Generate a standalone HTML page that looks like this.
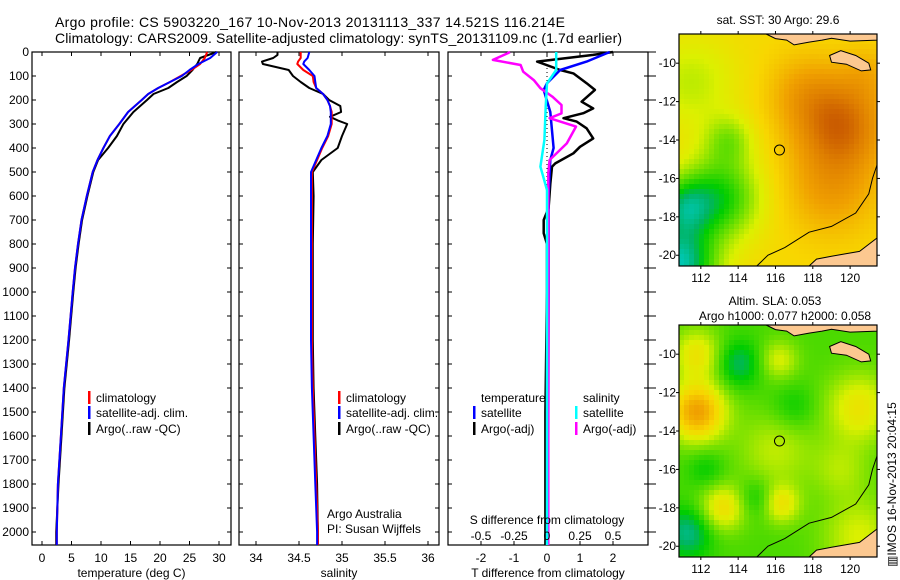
<!DOCTYPE html>
<html><head><meta charset="utf-8"><style>
body{margin:0;background:#fff;}
svg{display:block;font-family:"Liberation Sans",sans-serif;}
text{fill:#000;}
</style></head><body>
<svg id="s" width="900" height="580" viewBox="0 0 900 580" xmlns="http://www.w3.org/2000/svg">
<rect width="900" height="580" fill="#fff"/>
<text x="55" y="27" font-size="14" textLength="510">Argo profile: CS 5903220_167 10-Nov-2013 20131113_337 14.521S 116.214E</text>
<text x="55" y="43" font-size="14" textLength="567">Climatology: CARS2009. Satellite-adjusted climatology: synTS_20131109.nc (1.7d earlier)</text>
<g id="g"></g>
</svg>
<script>
// ---- data ----
const tDepth=[0,25,50,75,100,125,150,175,200,250,300,350,400,450,500,600,700,800,900,1000,1200,1400,1600,1800,2000,2054];
const tClim=[28.0,27.6,26.8,25.3,23.5,21.7,19.7,18.0,16.9,14.6,13.1,11.5,10.4,9.4,8.6,7.6,6.7,6.1,5.6,5.2,4.5,3.7,3.2,2.7,2.5,2.5];
const tSat=[29.7,28.5,26.5,25.0,23.7,21.7,19.7,18.0,16.9,14.6,13.1,11.5,10.4,9.4,8.6,7.6,6.7,6.1,5.6,5.2,4.5,3.7,3.2,2.7,2.5,2.5];
const tArgo=[29.6,26.8,26.3,25.5,24.5,22.9,21.4,18.9,17.8,15.5,13.8,12.7,11.2,9.5,8.7,7.7,6.8,6.2,5.7,5.3,4.6,3.8,3.3,2.8,2.4,2.4];
const sDepth=[0,12,25,40,50,75,100,125,150,175,200,225,250,270,285,300,350,400,450,500,600,800,1000,1200,1400,1600,1800,2000,2054];
const sClim=[34.52,34.52,34.52,34.49,34.48,34.55,34.66,34.67,34.70,34.78,34.83,34.86,34.88,34.88,34.88,34.88,34.84,34.77,34.71,34.65,34.65,34.65,34.65,34.65,34.66,34.68,34.70,34.72,34.72];
const sSat=[34.62,34.61,34.60,34.56,34.55,34.62,34.68,34.69,34.70,34.78,34.83,34.86,34.87,34.87,34.87,34.87,34.83,34.76,34.70,34.64,34.64,34.64,34.64,34.64,34.65,34.67,34.69,34.71,34.71];
const sArgo=[34.25,34.25,34.20,34.07,34.08,34.38,34.43,34.52,34.62,34.78,34.85,34.98,34.99,34.86,34.95,35.06,35.0,34.95,34.76,34.66,34.67,34.66,34.66,34.66,34.67,34.69,34.71,34.72,34.72];
const dtArgoDepth=[0,12,40,75,89,130,158,207,235,255,276,290,318,360,395,422,464,478,550,650,700,755,800,1000,1500,2000,2054];
const dtArgo=[2.0,1.4,-0.3,0.4,0.8,1.2,1.45,1.05,1.4,1.1,0.5,0.9,1.2,1.4,1.0,0.8,0.25,0.15,0.1,0.05,-0.1,-0.1,0.0,0.0,-0.05,-0.05,-0.05];
const dtSatDepth=[0,40,75,130,158,250,400,450,600,1000,2054];
const dtSat=[1.9,1.2,0.4,0,-0.1,0.1,0.2,0.1,0.05,0.05,0.03];
const dsArgoDepth=[0,6,33,54,82,117,151,186,221,256,276,311,381,450,506,2054];
const dsArgo=[-0.28,-0.3,-0.41,-0.2,-0.18,-0.1,-0.05,0.04,0.11,0.11,0.02,0.22,0.15,0.02,0.01,0.01];
const dsSatDepth=[0,75,131,228,367,478,575,2054];
const dsSat=[0.07,0.07,0,-0.01,-0.02,-0.05,0,0];
const depthTicks=[0,100,200,300,400,500,600,700,800,900,1000,1100,1200,1300,1400,1500,1600,1700,1800,1900,2000];
const tTicks=[0,5,10,15,20,25,30];
const sTicks=[34,34.5,35,35.5,36];
const sTickLabels=["34","34.5","35","35.5","36"];
const dTicks=[-2,-1,0,1,2];
const dsTicks=[-0.5,-0.25,0,0.25,0.5];
const dsTickLabels=["-0.5","-0.25","0","0.25","0.5"];
const lonTicks=[112,114,116,118,120];
const latTicks=[-10,-12,-14,-16,-18,-20];
const argoLon=116.214, argoLat=-14.521;

const NS="http://www.w3.org/2000/svg";
const G=document.getElementById('g');
function el(tag,attrs,parent){const e=document.createElementNS(NS,tag);for(const k in attrs)e.setAttribute(k,attrs[k]);(parent||G).appendChild(e);return e;}
function txt(x,y,s,size,anchor,parent){const t=el('text',{x:x,y:y,'font-size':size||12,'text-anchor':anchor||'start'},parent);t.textContent=s;return t;}

const pTop=52,pBot=545;
const yD=d=>pTop+d*0.24;
const xT=v=>42+v*5.9;
const xS=v=>256+(v-34)*86;
const xDT=v=>547+v*33;
const xDS=v=>547+v*132;

function panel(pname,x0,x1,xf,ticks,labels,xlabel){
  const g=el('g',{});
  
  
  el('rect',{x:x0,y:pTop,width:x1-x0,height:pBot-pTop,fill:'#fff',stroke:'#000','stroke-width':1.2},g);
  depthTicks.forEach(d=>{const y=yD(d);
    el('line',{x1:x0,x2:x0+4,y1:y,y2:y,stroke:'#000'},g);
    el('line',{x1:x1,x2:x1-4,y1:y,y2:y,stroke:'#000'},g);});
  ticks.forEach((v,i)=>{const x=xf(v);
    el('line',{x1:x,x2:x,y1:pBot,y2:pBot-4,stroke:'#000'},g);
    el('line',{x1:x,x2:x,y1:pTop,y2:pTop+4,stroke:'#000'},g);
    txt(x,562,labels[i],12,'middle',g);});
  const t=txt((x0+x1)/2,577,xlabel,12,'middle',g);
  
  
  return g;
}
function line(lname,depths,vals,xf,color,w,parent){
  const p=depths.map((d,i)=>xf(vals[i]).toFixed(1)+','+yD(d).toFixed(1)).join(' ');
  const e=el('polyline',{points:p,fill:'none',stroke:color,'stroke-width':w,'stroke-linejoin':'round'},parent);
  
  
}
function legend(lname,x,y,color,label,parent){
  const g=el('g',{},parent);
  
  
  el('rect',{x:x,y:y-11,width:2.5,height:13,fill:color},g);
  txt(x+8,y,label,12,'start',g);
}

depthTicks.forEach(d=>{const t=txt(29,yD(d)+4,String(d),12,'end');
  
  });

const p1=panel('temperature-panel',32,231,xT,tTicks,tTicks.map(String),'temperature (deg C)');
line('temp-argo',tDepth,tArgo,xT,'#000',2,p1);
line('temp-climatology',tDepth,tClim,xT,'#f00',2,p1);
line('temp-satellite-adj',tDepth,tSat,xT,'#00f',2,p1);
legend('legend-climatology',88,402,'#f00','climatology',p1);
legend('legend-satellite-adj',88,417,'#00f','satellite-adj. clim.',p1);
legend('legend-argo',88,433,'#000','Argo(..raw -QC)',p1);

const p2=panel('salinity-panel',239,439,xS,sTicks,sTickLabels,'salinity');
line('sal-argo',sDepth,sArgo,xS,'#000',2,p2);
line('sal-climatology',sDepth,sClim,xS,'#f00',2,p2);
line('sal-satellite-adj',sDepth,sSat,xS,'#00f',2,p2);
legend('legend-sal-climatology',338,402,'#f00','climatology',p2);
legend('legend-sal-satellite-adj',338,417,'#00f','satellite-adj. clim.',p2);
legend('legend-sal-argo',338,433,'#000','Argo(..raw -QC)',p2);
txt(327,518,'Argo Australia',12,'start',p2);
txt(327,533,'PI: Susan Wijffels',12,'start',p2);

const p3=panel('difference-panel',448,648,xDT,dTicks,dTicks.map(String),'T difference from climatology');
depthTicks.forEach(d=>el('line',{x1:648,x2:656,y1:yD(d),y2:yD(d),stroke:'#000'},p3));
el('line',{x1:547,x2:547,y1:pTop,y2:pBot,stroke:'#000','stroke-dasharray':'1,3'},p3);
line('dt-argo',dtArgoDepth,dtArgo,xDT,'#000',2.5,p3);
line('dt-satellite',dtSatDepth,dtSat,xDT,'#00f',2.5,p3);
line('ds-argo',dsArgoDepth,dsArgo,xDS,'#f0f',2.5,p3);
line('ds-satellite',dsSatDepth,dsSat,xDS,'#0ff',2.5,p3);
txt(481,402,'temperature',12,'start',p3);
txt(583,402,'salinity',12,'start',p3);
legend('legend-dt-satellite',473,417,'#00f','satellite',p3);
legend('legend-dt-argo',473,433,'#000','Argo(-adj)',p3);
legend('legend-ds-satellite',575,417,'#0ff','satellite',p3);
legend('legend-ds-argo',575,433,'#f0f','Argo(-adj)',p3);
txt(547,524,'S difference from climatology',12,'middle',p3);
dsTicks.forEach((v,i)=>txt(xDS(v),540,dsTickLabels[i],12,'middle',p3));

// ---- maps ----
const cstops=[[0,[0,150,255]],[0.15,[0,205,205]],[0.25,[0,180,100]],[0.32,[0,205,0]],[0.45,[120,225,0]],[0.55,[220,240,0]],[0.65,[248,214,0]],[0.78,[240,160,0]],[0.9,[222,125,0]],[1,[200,88,0]]];
function cmap(v){v=Math.max(0,Math.min(1,v));for(let i=1;i<cstops.length;i++){if(v<=cstops[i][0]){const a=cstops[i-1],b=cstops[i],t=(v-a[0])/(b[0]-a[0]);return 'rgb('+a[1].map((c,j)=>Math.round(c+(b[1][j]-c)*t)).join(',')+')';}}return 'rgb(200,88,0)';}
function gs(lo,la,cx,cy,r){return Math.exp(-((lo-cx)**2+(la-cy)**2)/(r*r));}
function sst(lo,la){return 0.64+0.3*gs(lo,la,119.5,-13.2,2.3)+0.15*gs(lo,la,119,-16.5,2.5)+0.12*gs(lo,la,117.5,-11.5,2)+0.08*gs(lo,la,121,-10.5,1.5)-0.12*gs(lo,la,111.5,-11,2.5)-0.3*gs(lo,la,113,-17,2.2)-0.15*gs(lo,la,113.5,-14,1.3)-0.45*gs(lo,la,110.8,-20.5,2)-0.25*gs(lo,la,111,-17.5,1.5);}
function sla(lo,la){return 0.4+0.38*gs(lo,la,111.8,-13,1.5)+0.2*gs(lo,la,111.8,-10,1.3)+0.15*gs(lo,la,116.2,-10.3,1)+0.2*gs(lo,la,120.5,-12.8,1.8)+0.2*gs(lo,la,116.3,-17.8,1)+0.22*gs(lo,la,113.2,-18,1.2)+0.12*gs(lo,la,116,-15,2)+0.15*gs(lo,la,120.5,-19.5,2)+0.1*gs(lo,la,119.5,-16,1.5)-0.15*gs(lo,la,114,-10.5,1.2)-0.18*gs(lo,la,111.3,-19.3,1.3)-0.1*gs(lo,la,115,-17.5,1)-0.08*gs(lo,la,117,-12.8,1.2)-0.08*gs(lo,la,112.3,-16,1);}
const sumba=[[118.9,-9.6],[119.5,-9.35],[120.3,-9.6],[121,-10],[121.1,-10.35],[120.6,-10.4],[119.8,-10.05],[119,-9.95]];
const islands=[[115.5,-8.48],[116,-8.72],[116.6,-8.8],[117,-9.05],[117.8,-8.9],[118.5,-8.8],[119,-8.7],[120,-8.85],[121.44,-8.8],[121.44,-8.48]];
const coast=[[121.44,-15.3],[121.2,-16],[121,-16.8],[120.3,-17.8],[119,-18.5],[117.8,-18.8],[116.5,-19.6],[115.6,-20],[115,-20.56]];
const corner=[[117.8,-20.56],[118.2,-20.2],[119,-20.05],[120.5,-19.8],[121.44,-19.1],[121.44,-20.56]];

function drawMap(mname,y0,field,title1,title2){
  const x0=679,x1=877,h=232,lonL=110.83,lonR=121.44,latT=-8.48,latB=-20.56;
  const y1=y0+h;
  const X=lo=>x0+(lo-lonL)*(x1-x0)/(lonR-lonL), Y=la=>y0+(la-latT)*h/(latB-latT);
  const g=el('g',{});
  
  
  const cs=5;
  for(let x=x0;x<x1;x+=cs)for(let y=y0;y<y1;y+=cs){
    const lo=lonL+(x+cs/2-x0)/(x1-x0)*(lonR-lonL), la=latT+(y+cs/2-y0)/h*(latB-latT);
    el('rect',{x:x,y:y,width:Math.min(cs,x1-x)+0.3,height:Math.min(cs,y1-y)+0.3,fill:cmap(field(lo,la))},g);}
  const pts=a=>a.map(p=>X(p[0]).toFixed(1)+','+Y(p[1]).toFixed(1)).join(' ');
  [sumba,islands,corner].forEach(a=>el('polygon',{points:pts(a),fill:'#fcc890',stroke:'#000','stroke-width':1},g));
  el('polyline',{points:pts(coast),fill:'none',stroke:'#000','stroke-width':1},g);
  const c=el('circle',{cx:X(argoLon),cy:Y(argoLat),r:5,fill:'none',stroke:'#000','stroke-width':1},g);
  
  
  el('rect',{x:x0,y:y0,width:x1-x0,height:h,fill:'none',stroke:'#000','stroke-width':1.2},g);
  lonTicks.forEach(lo=>{const x=X(lo);
    el('line',{x1:x,x2:x,y1:y0,y2:y0-3,stroke:'#000'},g);
    el('line',{x1:x,x2:x,y1:y1,y2:y1+3,stroke:'#000'},g);
    txt(x,y1+16,String(lo),12,'middle',g);});
  latTicks.forEach(la=>{const y=Y(la);
    el('line',{x1:x0,x2:x0-3,y1:y,y2:y,stroke:'#000'},g);
    el('line',{x1:x1,x2:x1+3,y1:y,y2:y,stroke:'#000'},g);
    txt(x0-3,y+4,String(la),12,'end',g);});
  if(title2){txt(775,y0-20,title1,12,'middle',g);txt(785,y0-5,title2,12,'middle',g);}
  else txt(778,y0-10,title1,12,'middle',g);
}
drawMap('sst-map',34,sst,'sat. SST: 30 Argo: 29.6');
drawMap('sla-map',325,sla,'Altim. SLA: 0.053','Argo h1000: 0.077 h2000: 0.058');
const im=txt(0,0,'\u25a5IMOS 16-Nov-2013 20:04:15',12,'start');
im.setAttribute('transform','translate(896,567) rotate(-90)');


</script>
</body></html>
